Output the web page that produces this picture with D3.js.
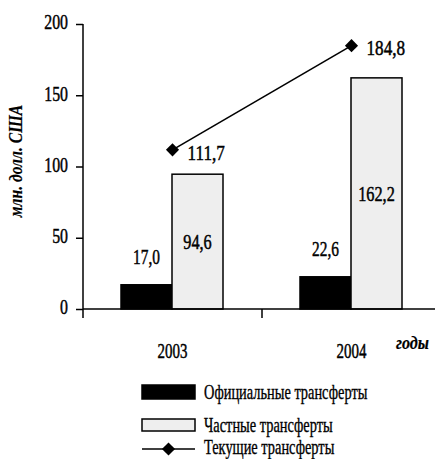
<!DOCTYPE html>
<html>
<head>
<meta charset="utf-8">
<script src="https://cdn.jsdelivr.net/npm/d3@7"></script>
<style>
  html, body { margin: 0; padding: 0; background: #fff; }
</style>
</head>
<body>
<svg id="chart" width="435" height="459"></svg>
<script>
// Transfers by year, million USD
const years = ["2003", "2004"];
const officialTransfers = [17.0, 22.6];
const privateTransfers = [94.6, 162.2];
const currentTransfers = [111.7, 184.8];
const yTicks = [0, 50, 100, 150, 200];
const seriesNames = ["Официальные трансферты", "Частные трансферты", "Текущие трансферты"];
const fmt = v => v.toFixed(1).replace(".", ",");

const FONT = '"Liberation Serif"';
const svg = d3.select("#chart");
const X0 = 83, X1 = 441, Y0 = 309, Y1 = 24;

const x = d3.scaleBand().domain(years).range([X0, X1]).padding(0);
const inner = d3.scaleBand().domain(["official", "private"]).range([38, 140]).padding(0);
const y = d3.scaleLinear().domain([0, 200]).range([Y0, Y1]);

// condensed serif text: horizontally squeezed around its anchor point
function label(g, tx, ty, str, opts = {}) {
  const t = g.append("text")
    .attr("transform", `translate(${tx},${ty}) scale(${opts.sx || 0.7},1)`)
    .attr("text-anchor", opts.anchor || "middle")
    .attr("dominant-baseline", "central")
    .style("font-family", FONT)
    .style("font-size", (opts.size || 22) + "px")
    .style("font-weight", opts.weight || "normal")
    .style("fill", "#000")
    .style("stroke", "#000")
    .style("stroke-width", opts.stroke != null ? opts.stroke : 0.5)
    .text(str);
  if (opts.italic) t.style("font-style", "italic");
  return t;
}

// bars
const bars = svg.append("g");
years.forEach((yr, i) => {
  bars.append("rect")
    .attr("x", x(yr) + inner("official"))
    .attr("y", y(officialTransfers[i]))
    .attr("width", inner.bandwidth())
    .attr("height", y(0) - y(officialTransfers[i]))
    .attr("fill", "#000").attr("stroke", "#000").attr("stroke-width", 1.5);
  bars.append("rect")
    .attr("x", x(yr) + inner("private"))
    .attr("y", y(privateTransfers[i]))
    .attr("width", inner.bandwidth())
    .attr("height", y(0) - y(privateTransfers[i]))
    .attr("fill", "#eeeeee").attr("stroke", "#000").attr("stroke-width", 1.5);
});

// axes
const yAxis = d3.axisLeft(y).tickValues(yTicks).tickSize(7).tickFormat("");
const gy = svg.append("g").attr("transform", `translate(${X0},0)`).call(yAxis);
gy.select(".domain").attr("stroke-width", 1.5).attr("d", `M0,${Y1}V${Y0}`);
gy.selectAll(".tick line").attr("stroke-width", 1.5);

const xAxis = d3.axisBottom(x).tickValues([]).tickSizeOuter(0);
const gx = svg.append("g").attr("transform", `translate(0,${Y0})`).call(xAxis);
gx.select(".domain").attr("stroke-width", 1.5).attr("d", `M${X0},0H435`);
gx.selectAll(".sep").data(years.map(yr => x(yr))).enter().append("line")
  .attr("x1", d => d).attr("x2", d => d).attr("y1", 0).attr("y2", 9)
  .attr("stroke", "#000").attr("stroke-width", 1.5);

// y tick labels
const labels = svg.append("g");
yTicks.forEach(v => label(labels, 68, y(v) - 2, String(v), { anchor: "end", sx: 0.72 }));

// x category labels
years.forEach(yr => label(labels, x(yr) + x.bandwidth() / 2, 350, yr, { sx: 0.68 }));
label(labels, 396, 343, "годы", { anchor: "start", size: 19, italic: true, weight: "bold", sx: 0.85, stroke: 0.2 });

// y axis title
label(svg, 16, 161, "млн. долл. США", { size: 19, italic: true, weight: "bold", sx: 0.82, stroke: 0.2 })
  .attr("transform", "translate(16,161) rotate(-90) scale(0.82,1)");

// bar value labels
years.forEach((yr, i) => {
  label(labels, x(yr) + inner("official") + inner.bandwidth() / 2,
    y(officialTransfers[i]) - 28, fmt(officialTransfers[i]), { sx: 0.7 });
  label(labels, x(yr) + inner("private") + inner.bandwidth() / 2,
    (y(privateTransfers[i]) + y(0)) / 2, fmt(privateTransfers[i]), { sx: 0.74 });
});

// current transfers line
const cx = yr => x(yr) + x.bandwidth() / 2;
const line = d3.line().x((d, i) => cx(years[i])).y(d => y(d));
svg.append("path").datum(currentTransfers)
  .attr("d", line).attr("fill", "none").attr("stroke", "#000").attr("stroke-width", 1.6);
const diamond = d3.symbol().type(d3.symbolDiamond2).size(110);
years.forEach((yr, i) => {
  svg.append("path").attr("d", diamond())
    .attr("transform", `translate(${cx(yr)},${y(currentTransfers[i])})`)
    .attr("fill", "#000");
  label(labels, cx(yr) + 15, y(currentTransfers[i]) + 2, fmt(currentTransfers[i]), { anchor: "start", sx: 0.78 });
});

// legend
const lg = svg.append("g");
const LX = 142, LW = 53;
lg.append("rect").attr("x", LX).attr("y", 385).attr("width", LW).attr("height", 14)
  .attr("fill", "#000").attr("stroke", "#000").attr("stroke-width", 1.5);
lg.append("rect").attr("x", LX).attr("y", 419).attr("width", LW).attr("height", 12)
  .attr("fill", "#eeeeee").attr("stroke", "#000").attr("stroke-width", 1.5);
lg.append("line").attr("x1", LX).attr("x2", LX + LW).attr("y1", 449).attr("y2", 449)
  .attr("stroke", "#000").attr("stroke-width", 1.6);
lg.append("path").attr("d", diamond()).attr("transform", `translate(${LX + LW / 2},449)`).attr("fill", "#000");
[392, 425, 447].forEach((ly, i) =>
  label(lg, 204, ly, seriesNames[i], { anchor: "start", size: 20, sx: 0.72, stroke: 0.35 }));
</script>
</body>
</html>
